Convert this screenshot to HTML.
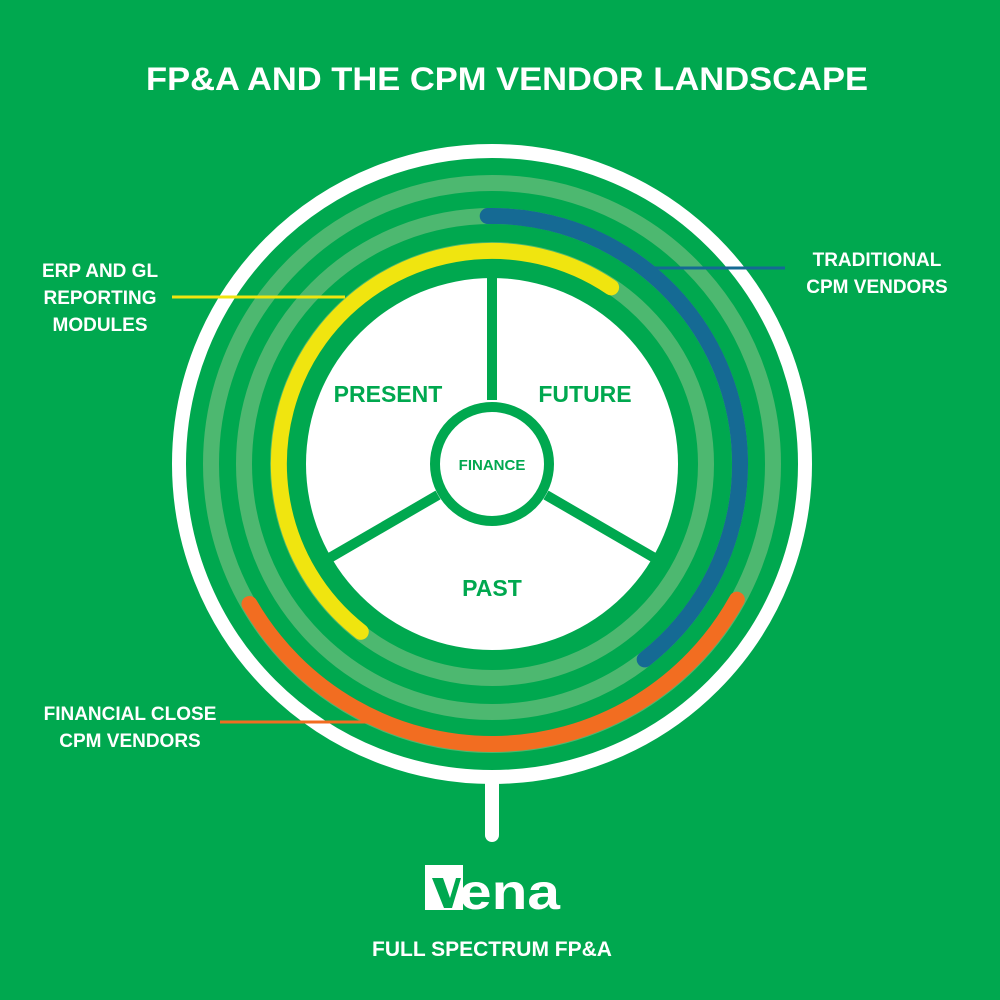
<!DOCTYPE html>
<html><head><style>html,body{margin:0;padding:0;background:#00a84f;}svg{display:block}</style></head>
<body>
<svg width="1000" height="1000" viewBox="0 0 1000 1000" xmlns="http://www.w3.org/2000/svg" font-family="Liberation Sans, sans-serif" font-weight="bold">
<rect width="1000" height="1000" fill="#00a84f"/>
<text x="507" y="90" fill="#fff" font-size="32" text-anchor="middle" textLength="722" lengthAdjust="spacingAndGlyphs">FP&amp;A AND THE CPM VENDOR LANDSCAPE</text>
<line x1="492" y1="770" x2="492" y2="835" stroke="#fff" stroke-width="14" stroke-linecap="round"/>
<circle cx="492" cy="464" r="313" fill="#00a84f" stroke="#fff" stroke-width="14"/>
<g fill="none" stroke="#4db870" stroke-width="16">
<circle cx="492" cy="464" r="281"/>
<circle cx="492" cy="464" r="248"/>
<circle cx="492" cy="464" r="214"/>
</g>
<circle cx="492" cy="464" r="186" fill="#fff"/>
<g stroke="#00a84f" stroke-width="10">
<line x1="492" y1="400" x2="492" y2="272"/>
<line x1="438" y1="495" x2="326" y2="560"/>
<line x1="546" y1="495" x2="658" y2="560"/>
</g>
<circle cx="492" cy="464" r="57" fill="#fff" stroke="#00a84f" stroke-width="10"/>
<line x1="655" y1="268" x2="785" y2="268" stroke="#156a94" stroke-width="3"/>
<line x1="172" y1="297" x2="345" y2="297" stroke="#f0e50f" stroke-width="3"/>
<line x1="220" y1="722" x2="380" y2="722" stroke="#f26d21" stroke-width="3"/>
<g fill="none" stroke-width="16" stroke-linecap="round">
<path d="M487.7 216 A248 248 0 0 1 644.7 659.4" stroke="#156a94"/>
<path d="M611.1 287.4 A213 213 0 0 0 360.8 631.8" stroke="#f0e50f"/>
<path d="M249.5 604 A280 280 0 0 0 736.9 599.7" stroke="#f26d21"/>
</g>
<g fill="#00a84f" text-anchor="middle">
<text x="388" y="402" font-size="23">PRESENT</text>
<text x="585" y="402" font-size="23">FUTURE</text>
<text x="492" y="596" font-size="23">PAST</text>
<text x="492" y="470" font-size="15">FINANCE</text>
</g>
<g fill="#fff" font-size="19" text-anchor="middle">
<text x="100" y="277">ERP AND GL</text>
<text x="100" y="304">REPORTING</text>
<text x="100" y="331">MODULES</text>
<text x="877" y="266">TRADITIONAL</text>
<text x="877" y="293">CPM VENDORS</text>
<text x="130" y="720">FINANCIAL CLOSE</text>
<text x="130" y="747">CPM VENDORS</text>
<text x="492" y="956" font-size="21">FULL SPECTRUM FP&amp;A</text>
</g>
<rect x="425" y="865" width="38" height="45" fill="#fff"/>
<polygon points="432,878 443,878 450,898 456,878 461,878 452,908 444,908" fill="#00a84f"/>
<text x="459" y="909" fill="#fff" font-size="50" font-family="Liberation Sans, sans-serif" font-weight="bold" textLength="101" lengthAdjust="spacingAndGlyphs">ena</text>
</svg>
</body></html>
